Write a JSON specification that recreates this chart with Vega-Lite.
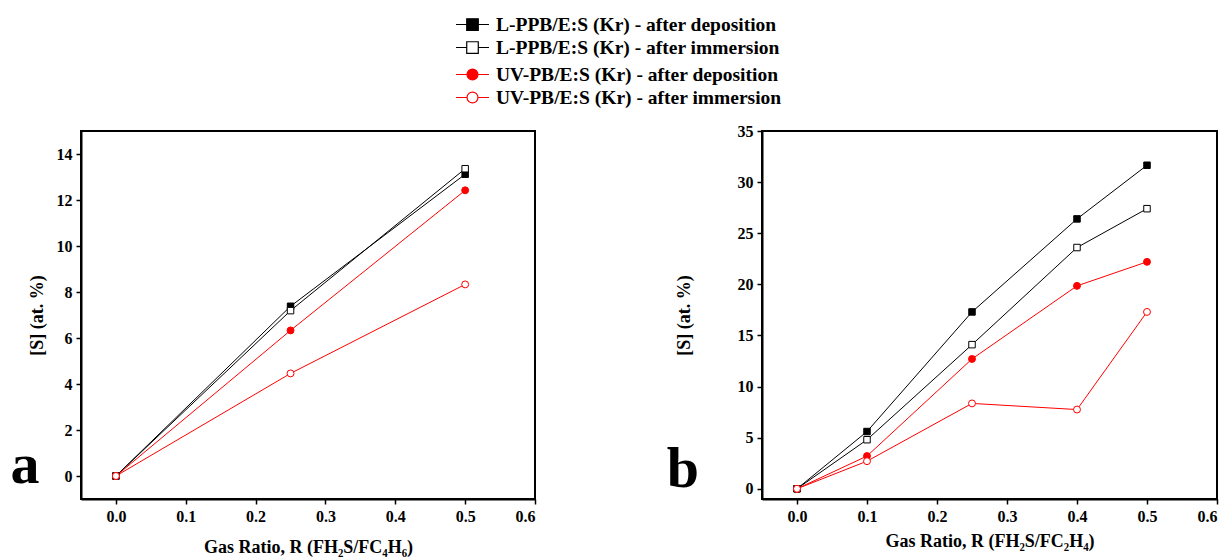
{
  "$schema": "https://vega.github.io/schema/vega-lite/v6.json",
  "background": "white",
  "padding": {"left": 9, "top": 12, "right": 5, "bottom": 2},
  "datasets": {
    "a": [
      {"series": "L-PPB/E:S (Kr) - after deposition", "r": 0, "s": 0},
      {"series": "L-PPB/E:S (Kr) - after deposition", "r": 0.25, "s": 7.38},
      {"series": "L-PPB/E:S (Kr) - after deposition", "r": 0.5, "s": 13.12},
      {"series": "L-PPB/E:S (Kr) - after immersion", "r": 0, "s": 0},
      {"series": "L-PPB/E:S (Kr) - after immersion", "r": 0.25, "s": 7.19},
      {"series": "L-PPB/E:S (Kr) - after immersion", "r": 0.5, "s": 13.36},
      {"series": "UV-PB/E:S (Kr) - after deposition", "r": 0, "s": 0},
      {"series": "UV-PB/E:S (Kr) - after deposition", "r": 0.25, "s": 6.33},
      {"series": "UV-PB/E:S (Kr) - after deposition", "r": 0.5, "s": 12.42},
      {"series": "UV-PB/E:S (Kr) - after immersion", "r": 0, "s": 0},
      {"series": "UV-PB/E:S (Kr) - after immersion", "r": 0.25, "s": 4.46},
      {"series": "UV-PB/E:S (Kr) - after immersion", "r": 0.5, "s": 8.33}
    ],
    "b": [
      {"series": "L-PPB/E:S (Kr) - after deposition", "r": 0, "s": 0},
      {"series": "L-PPB/E:S (Kr) - after deposition", "r": 0.1, "s": 5.6},
      {"series": "L-PPB/E:S (Kr) - after deposition", "r": 0.25, "s": 17.3},
      {"series": "L-PPB/E:S (Kr) - after deposition", "r": 0.4, "s": 26.4},
      {"series": "L-PPB/E:S (Kr) - after deposition", "r": 0.5, "s": 31.65},
      {"series": "L-PPB/E:S (Kr) - after immersion", "r": 0, "s": 0},
      {"series": "L-PPB/E:S (Kr) - after immersion", "r": 0.1, "s": 4.8},
      {"series": "L-PPB/E:S (Kr) - after immersion", "r": 0.25, "s": 14.1},
      {"series": "L-PPB/E:S (Kr) - after immersion", "r": 0.4, "s": 23.6},
      {"series": "L-PPB/E:S (Kr) - after immersion", "r": 0.5, "s": 27.4},
      {"series": "UV-PB/E:S (Kr) - after deposition", "r": 0, "s": 0},
      {"series": "UV-PB/E:S (Kr) - after deposition", "r": 0.1, "s": 3.2},
      {"series": "UV-PB/E:S (Kr) - after deposition", "r": 0.25, "s": 12.7},
      {"series": "UV-PB/E:S (Kr) - after deposition", "r": 0.4, "s": 19.85},
      {"series": "UV-PB/E:S (Kr) - after deposition", "r": 0.5, "s": 22.2},
      {"series": "UV-PB/E:S (Kr) - after immersion", "r": 0, "s": 0},
      {"series": "UV-PB/E:S (Kr) - after immersion", "r": 0.1, "s": 2.7},
      {"series": "UV-PB/E:S (Kr) - after immersion", "r": 0.25, "s": 8.35},
      {"series": "UV-PB/E:S (Kr) - after immersion", "r": 0.4, "s": 7.75},
      {"series": "UV-PB/E:S (Kr) - after immersion", "r": 0.5, "s": 17.3}
    ]
  },
  "config": {
    "font": "Liberation Serif",
    "view": {"stroke": "black", "strokeWidth": 2},
    "axis": {
      "domainColor": "black", "domainWidth": 2,
      "tickColor": "black", "tickWidth": 1.5, "tickSize": 5,
      "labelFont": "Liberation Serif", "labelFontWeight": "bold", "labelFontSize": 16, "labelColor": "black", "labelPadding": 4,
      "titleFont": "Liberation Serif", "titleFontWeight": "bold", "titleFontSize": 18, "titleColor": "black",
      "grid": false
    },
    "legend": {
      "labelFont": "Liberation Serif", "labelFontWeight": "bold", "labelFontSize": 19.5, "labelColor": "black", "labelLimit": 500,
      "symbolSize": 441, "symbolStrokeWidth": 1.2, "labelOffset": 12, "rowPadding": 2, "padding": 0
    }
  },
  "bounds": "flush",
  "spacing": 227,
  "resolve": {"scale": {"fill": "independent"}, "legend": {"fill": "independent"}},
  "hconcat": [
    {
      "width": 454,
      "height": 368,
      "data": {"name": "a"},
      "resolve": {"scale": {"fill": "independent"}, "legend": {"fill": "independent"}},
      "layer": [
        {
          "mark": {"type": "line", "strokeWidth": 1},
          "encoding": {
            "x": {"field": "r", "type": "quantitative", "scale": {"domain": [-0.05, 0.6], "nice": false, "zero": false},
                  "axis": {"values": [0, 0.1, 0.2, 0.3, 0.4, 0.5, 0.6], "format": ".1f", "title": "Gas Ratio, R (FH₂S/FC₄H₆)", "titlePadding": 14}},
            "y": {"field": "s", "type": "quantitative", "scale": {"domain": [-1, 15], "nice": false, "zero": false},
                  "axis": {"values": [0, 2, 4, 6, 8, 10, 12, 14], "format": "d", "title": "[S] (at. %)", "titlePadding": 10}},
            "stroke": {"field": "series", "type": "nominal",
                       "scale": {"domain": ["L-PPB/E:S (Kr) - after deposition", "L-PPB/E:S (Kr) - after immersion", "UV-PB/E:S (Kr) - after deposition", "UV-PB/E:S (Kr) - after immersion"], "range": ["black", "black", "red", "red"]},
                       "legend": null}
          }
        },
        {
          "transform": [{"filter": "indexof(datum.series, 'L-PPB') === 0"}],
          "mark": {"type": "square", "filled": true, "opacity": 1, "stroke": "black", "strokeWidth": 1, "size": 42},
          "encoding": {
            "x": {"field": "r", "type": "quantitative"},
            "y": {"field": "s", "type": "quantitative"},
            "fill": {"field": "series", "type": "nominal",
                     "scale": {"domain": ["L-PPB/E:S (Kr) - after deposition", "L-PPB/E:S (Kr) - after immersion"], "range": ["black", "white"]},
                     "legend": {"title": null, "orient": "none", "legendX": 380, "legendY": -118,
                                "symbolStrokeColor": "black",
                                "symbolType": "M-1.57,0L-0.55,0M0.55,0L1.57,0M-0.55,-0.55L0.55,-0.55L0.55,0.55L-0.55,0.55Z"}}
          }
        },
        {
          "transform": [{"filter": "indexof(datum.series, 'UV-PB') === 0"}],
          "mark": {"type": "circle", "filled": true, "opacity": 1, "stroke": "red", "strokeWidth": 1, "size": 48},
          "encoding": {
            "x": {"field": "r", "type": "quantitative"},
            "y": {"field": "s", "type": "quantitative"},
            "fill": {"field": "series", "type": "nominal",
                     "scale": {"domain": ["UV-PB/E:S (Kr) - after deposition", "UV-PB/E:S (Kr) - after immersion"], "range": ["red", "white"]},
                     "legend": {"title": null, "orient": "none", "legendX": 380, "legendY": -68,
                                "symbolStrokeColor": "red",
                                "symbolType": "M-1.57,0L-0.52,0M0.52,0L1.57,0M-0.52,0A0.52,0.52 0 1,0 0.52,0A0.52,0.52 0 1,0 -0.52,0Z"}}
          }
        },
        {
          "data": {"values": [{"label": "a"}]},
          "mark": {"type": "text", "fontSize": 58, "font": "Liberation Serif", "fontWeight": "bold", "align": "center", "baseline": "alphabetic", "color": "black"},
          "encoding": {
            "text": {"field": "label"},
            "x": {"datum": -0.13, "type": "quantitative"},
            "y": {"datum": -0.3, "type": "quantitative"}
          }
        }
      ]
    },
    {
      "width": 455,
      "height": 368,
      "data": {"name": "b"},
      "layer": [
        {
          "mark": {"type": "line", "strokeWidth": 1},
          "encoding": {
            "x": {"field": "r", "type": "quantitative", "scale": {"domain": [-0.05, 0.6], "nice": false, "zero": false},
                  "axis": {"values": [0, 0.1, 0.2, 0.3, 0.4, 0.5, 0.6], "format": ".1f", "title": "Gas Ratio, R (FH₂S/FC₂H₄)", "titlePadding": 8}},
            "y": {"field": "s", "type": "quantitative", "scale": {"domain": [-1, 35], "nice": false, "zero": false},
                  "axis": {"values": [0, 5, 10, 15, 20, 25, 30, 35], "format": "d", "title": "[S] (at. %)", "titlePadding": 44}},
            "stroke": {"field": "series", "type": "nominal", "legend": null}
          }
        },
        {
          "transform": [{"filter": "indexof(datum.series, 'L-PPB') === 0"}],
          "mark": {"type": "square", "filled": true, "opacity": 1, "stroke": "black", "strokeWidth": 1, "size": 42},
          "encoding": {
            "x": {"field": "r", "type": "quantitative"},
            "y": {"field": "s", "type": "quantitative"},
            "fill": {"field": "series", "type": "nominal",
                     "scale": {"domain": ["L-PPB/E:S (Kr) - after deposition", "L-PPB/E:S (Kr) - after immersion", "UV-PB/E:S (Kr) - after deposition", "UV-PB/E:S (Kr) - after immersion"], "range": ["black", "white", "red", "white"]},
                     "legend": null}
          }
        },
        {
          "transform": [{"filter": "indexof(datum.series, 'UV-PB') === 0"}],
          "mark": {"type": "circle", "filled": true, "opacity": 1, "stroke": "red", "strokeWidth": 1, "size": 48},
          "encoding": {
            "x": {"field": "r", "type": "quantitative"},
            "y": {"field": "s", "type": "quantitative"},
            "fill": {"field": "series", "type": "nominal", "legend": null}
          }
        },
        {
          "data": {"values": [{"label": "b"}]},
          "mark": {"type": "text", "fontSize": 58, "font": "Liberation Serif", "fontWeight": "bold", "align": "center", "baseline": "alphabetic", "color": "black"},
          "encoding": {
            "text": {"field": "label"},
            "x": {"datum": -0.163, "type": "quantitative"},
            "y": {"datum": 0.17, "type": "quantitative"}
          }
        }
      ]
    }
  ]
}
